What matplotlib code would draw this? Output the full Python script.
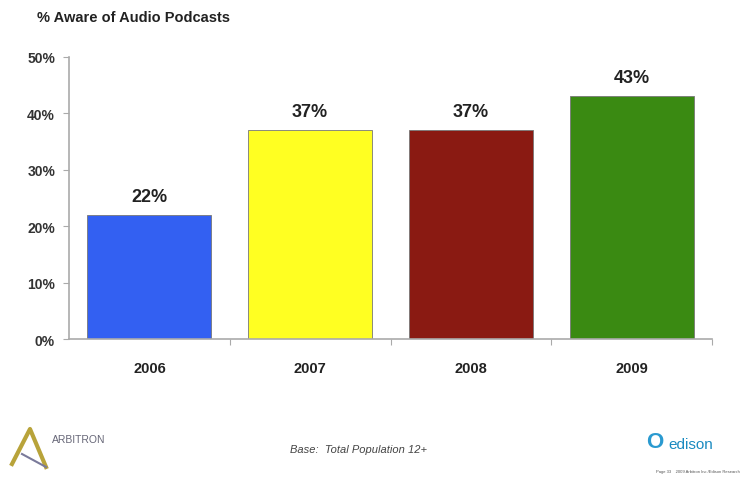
import matplotlib
matplotlib.use("Agg")
import matplotlib.pyplot as plt
from matplotlib.lines import Line2D

years = ["2006", "2007", "2008", "2009"]
values = [22, 37, 37, 43]
colors = ["#3360F2", "#FFFF22", "#8A1A12", "#3A8A12"]
yticks = [0, 10, 20, 30, 40, 50]
ytick_labels = ["0%", "10%", "20%", "30%", "40%", "50%"]

plt.rcParams['font.family'] = ['Liberation Sans', 'DejaVu Sans']

fig = plt.figure(figsize=(7.48, 4.81), dpi=100)
ax = fig.add_axes([69/748, 1-340/481, (712-69)/748, (340-58)/481])

x = range(len(years))
bars = ax.bar(x, values, width=0.77, color=colors, edgecolor="#777777", linewidth=0.6)
for xi, v in zip(x, values):
    ax.text(xi, v + 1.8, f"{v}%", ha="center", va="bottom", fontsize=13,
            fontweight="bold", color="#222222")

ax.set_xlim(-0.5, 3.5)
ax.set_ylim(0, 50)
ax.set_yticks(yticks)
ax.set_yticklabels(ytick_labels, fontsize=10, fontweight="bold", color="#333333")
ax.set_xticks([0.5, 1.5, 2.5, 3.5], minor=False)
ax.set_xticklabels([])
ax.set_xticks(list(x), minor=True)
ax.set_xticklabels(years, minor=True, fontsize=10.5, fontweight="bold", color="#222222")
ax.tick_params(axis="x", which="minor", length=0, pad=16)
ax.tick_params(axis="x", which="major", length=4, color="#aaaaaa", direction="out")
ax.tick_params(axis="y", length=4, color="#aaaaaa", direction="out", pad=6)

for s in ["top", "right"]:
    ax.spines[s].set_visible(False)
for s in ["left", "bottom"]:
    ax.spines[s].set_color("#aaaaaa")
    ax.spines[s].set_linewidth(1.2)

fig.text(37/748, 1-18/481, "% Aware of Audio Podcasts", fontsize=10.5, fontweight="bold",
         color="#222222", va="center", ha="left")

# footer
fig.text(290/748, 1-450/481, "Base:  Total Population 12+", fontsize=8, style="italic",
         color="#444444", va="center", ha="left")
# Arbitron logo
fig.add_artist(Line2D([12/748, 30/748, 46/748], [1-465/481, 1-430/481, 1-468/481],
                      color="#B8A33A", linewidth=3))
fig.add_artist(Line2D([22/748, 46/748], [1-455/481, 1-468/481], color="#7a7a9a", linewidth=1.5))
fig.text(52/748, 1-440/481, "ARBITRON", fontsize=7.5, color="#666677", va="center", ha="left")
# Edison logo
fig.text(646/748, 1-443/481, "O", fontsize=16, color="#2a9ad0", va="center", ha="left", fontweight="bold")
fig.text(668/748, 1-445/481, "edison", fontsize=11, color="#1a8ac0", va="center", ha="left")
fig.text(740/748, 1-472/481, "Page 33    2009 Arbitron Inc./Edison Research", fontsize=3,
         color="#555555", va="center", ha="right")

fig.savefig("out.png", dpi=100)
